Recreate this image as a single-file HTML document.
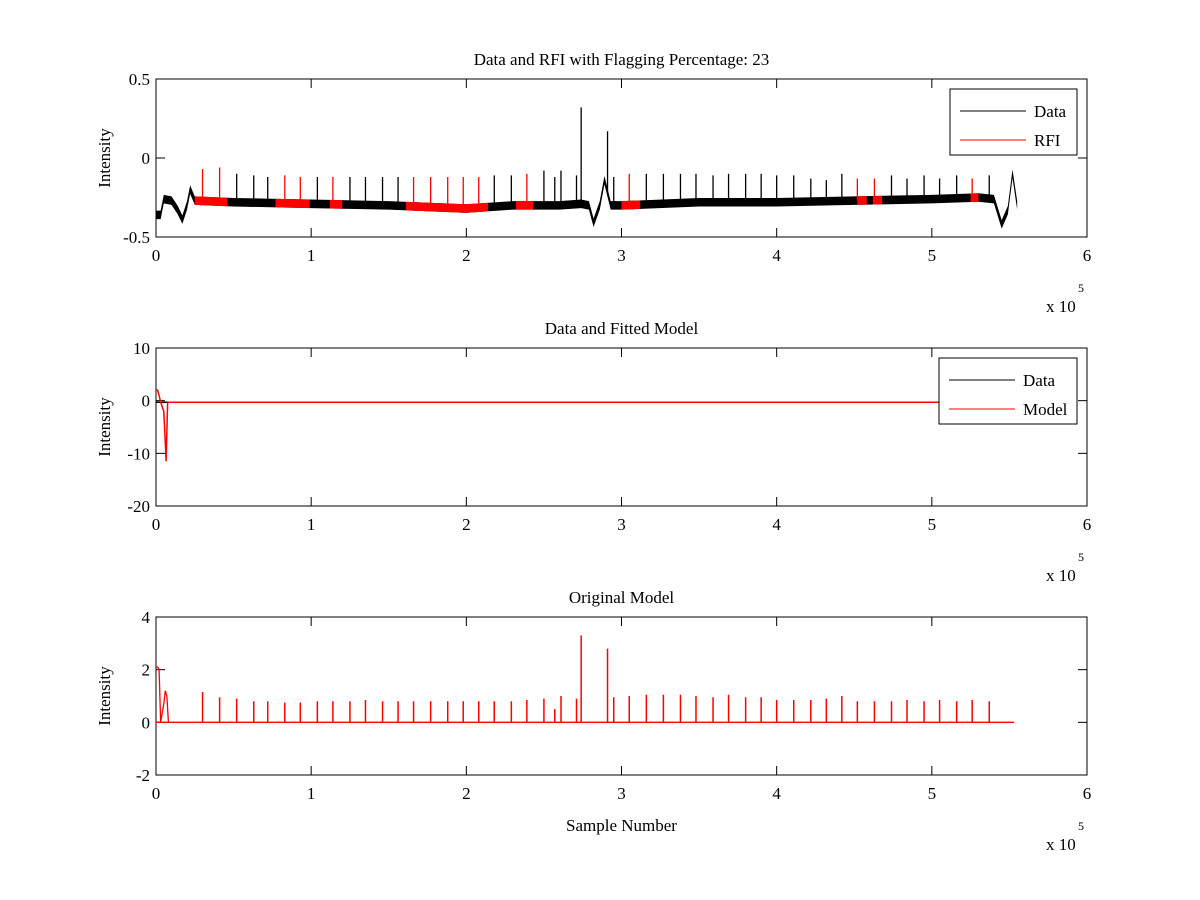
<!DOCTYPE html>
<html><head><meta charset="utf-8"><style>
body{margin:0;background:#fff}
svg{display:block;font-family:"Liberation Serif",serif;}
</style></head><body>
<svg id="fig" width="1200" height="900" viewBox="0 0 1200 900">
<rect width="1200" height="900" fill="#fff"/>
</svg>
<script>
// ---- data ----
const spikeX = [0.30,0.41,0.52,0.63,0.72,0.83,0.93,1.04,1.14,1.25,1.35,1.46,1.56,1.66,1.77,1.88,1.98,2.08,2.18,2.29,2.39,2.50,2.57,2.61,2.71,2.74,2.91,2.95,3.05,3.16,3.27,3.38,3.48,3.59,3.69,3.80,3.90,4.00,4.11,4.22,4.32,4.42,4.52,4.63,4.74,4.84,4.95,5.05,5.16,5.26,5.37];
const modelH = [1.15,0.95,0.9,0.8,0.8,0.75,0.75,0.8,0.8,0.8,0.85,0.8,0.8,0.8,0.8,0.8,0.8,0.8,0.8,0.8,0.85,0.9,0.5,1.0,0.9,3.3,2.8,0.95,1.0,1.05,1.05,1.05,1.0,0.95,1.05,0.95,0.95,0.85,0.85,0.85,0.9,1.0,0.8,0.8,0.8,0.85,0.8,0.85,0.8,0.85,0.8];
const dataSpikeTop = [-0.07,-0.06,-0.1,-0.11,-0.12,-0.11,-0.12,-0.12,-0.12,-0.12,-0.12,-0.12,-0.12,-0.12,-0.12,-0.12,-0.12,-0.12,-0.11,-0.11,-0.1,-0.08,-0.12,-0.08,-0.11,0.32,0.17,-0.12,-0.1,-0.1,-0.1,-0.1,-0.1,-0.11,-0.1,-0.1,-0.1,-0.11,-0.11,-0.13,-0.14,-0.1,-0.13,-0.13,-0.11,-0.13,-0.11,-0.13,-0.11,-0.13,-0.11];
const baseX = [0.00,0.03,0.05,0.10,0.14,0.17,0.20,0.22,0.25,0.5,1.0,1.5,2.0,2.3,2.6,2.74,2.79,2.82,2.86,2.89,2.93,3.0,3.5,4.0,4.5,5.0,5.3,5.40,5.45,5.49,5.52,5.55];
const baseY = [-0.36,-0.36,-0.26,-0.27,-0.33,-0.39,-0.30,-0.2,-0.27,-0.28,-0.29,-0.3,-0.32,-0.30,-0.30,-0.29,-0.3,-0.41,-0.3,-0.14,-0.3,-0.3,-0.28,-0.28,-0.27,-0.26,-0.25,-0.26,-0.42,-0.33,-0.1,-0.3];
const rfiStart = [0.25,0.77,1.12,1.61,2.32,3.00,4.52,4.62,5.25];
const rfiEnd   = [0.46,0.99,1.20,2.14,2.43,3.12,4.58,4.68,5.30];
const fitX = [0,0.01,0.02,0.03,0.05,0.06,0.065,0.075,0.1,5.53];
const fitY = [2,2,1,-0.3,-2,-8,-11.5,-0.3,-0.3,-0.3];
const xTicks = [0,1,2,3,4,5,6];

const S = document.getElementById('fig');
const NS='http://www.w3.org/2000/svg';
function el(t,a,p){const e=document.createElementNS(NS,t);for(const k in a)e.setAttribute(k,a[k]);(p||S).appendChild(e);return e;}
const X0=156,X1=1087;
const sx=v=>X0+(v/6)*(X1-X0);

function axes(top,bot,ymin,ymax,yTicks,title,name,xlabel){
  const g=el('g',{});
  
  
  const sy=v=>bot-(v-ymin)/(ymax-ymin)*(bot-top);
  el('rect',{x:X0,y:top,width:X1-X0,height:bot-top,fill:'none',stroke:'#000','stroke-width':1},g);
  xTicks.forEach(t=>{
    const x=sx(t);
    el('line',{x1:x,y1:bot,x2:x,y2:bot-9,stroke:'#000'},g);
    el('line',{x1:x,y1:top,x2:x,y2:top+9,stroke:'#000'},g);
    const tx=el('text',{x:x,y:bot+24,'font-size':17,'text-anchor':'middle'},g);tx.textContent=t;
    
    
  });
  yTicks.forEach(t=>{
    const y=sy(t);
    el('line',{x1:X0,y1:y,x2:X0+9,y2:y,stroke:'#000'},g);
    el('line',{x1:X1,y1:y,x2:X1-9,y2:y,stroke:'#000'},g);
    const tx=el('text',{x:X0-6,y:y+6,'font-size':17,'text-anchor':'end'},g);tx.textContent=t;
    
    
  });
  const tt=el('text',{x:(X0+X1)/2,y:top-14,'font-size':17,'text-anchor':'middle'},g);tt.textContent=title;
  
  
  const yl=el('text',{x:0,y:0,'font-size':17,'text-anchor':'middle',transform:`translate(${X0-46},${(top+bot)/2}) rotate(-90)`},g);yl.textContent='Intensity';
  
  
  const ex=el('text',{x:1046,y:bot+75,'font-size':17},g);ex.textContent='x 10';
  
  
  const e5=el('text',{x:1078,y:bot+55,'font-size':12},g);e5.textContent='5';
  if(xlabel){const xl=el('text',{x:(X0+X1)/2,y:bot+56,'font-size':17,'text-anchor':'middle'},g);xl.textContent=xlabel;
    
    }
  return sy;
}
function legend(x,y,w,items,name){
  const g=el('g',{});
  
  
  el('rect',{x:x,y:y,width:w,height:66,fill:'#fff',stroke:'#000'},g);
  items.forEach((it,i)=>{
    const yy=y+22+i*29;
    el('line',{x1:x+10,y1:yy,x2:x+76,y2:yy,stroke:it[1],'stroke-width':1},g);
    const t=el('text',{x:x+84,y:yy+6,'font-size':17},g);t.textContent=it[0];
  });
}
function interp(v){for(let i=1;i<baseX.length;i++){if(v<=baseX[i]){const f=(v-baseX[i-1])/(baseX[i]-baseX[i-1]);return baseY[i-1]+f*(baseY[i]-baseY[i-1]);}}return baseY[baseY.length-1];}

// ---- panel 1 ----
const sy1=axes(79,237,-0.5,0.5,[-0.5,0,0.5],'Data and RFI with Flagging Percentage: 23','panel-rfi');
const band=0.027;
let up=baseX.map(v=>sx(v)+','+sy1(interp(v)+band)).join(' ');
let dn=baseX.slice().reverse().map(v=>sx(v)+','+sy1(interp(v)-band)).join(' ');
const bandEl=el('polygon',{points:up+' '+dn,fill:'#000',stroke:'none'});


rfiStart.forEach((s,i)=>{
  const pts=[];for(let k=0;k<=10;k++){const v=s+(rfiEnd[i]-s)*k/10;pts.push(sx(v)+','+sy1(interp(v)+band));}
  for(let k=10;k>=0;k--){const v=s+(rfiEnd[i]-s)*k/10;pts.push(sx(v)+','+sy1(interp(v)-band));}
  const r=el('polygon',{points:pts.join(' '),fill:'#f00',stroke:'none'});
  
  
});
spikeX.forEach((v,i)=>{
  const red=rfiStart.some((s,j)=>v>=s-0.02&&v<=rfiEnd[j]+0.02);
  const l=el('line',{x1:sx(v),y1:sy1(interp(v)),x2:sx(v),y2:sy1(dataSpikeTop[i]),stroke:red?'#f00':'#000','stroke-width':1.3});
  
  
});
legend(950,89,127,[['Data','#000'],['RFI','#f00']],'legend-rfi');

// ---- panel 2 ----
const sy2=axes(348,506,-20,10,[-20,-10,0,10],'Data and Fitted Model','panel-fit');
const dl=el('line',{x1:sx(0),y1:sy2(-0.3),x2:sx(5.53),y2:sy2(-0.3),stroke:'#000','stroke-width':1.5});


const fl=el('polyline',{points:fitX.map((v,i)=>sx(v)+','+sy2(fitY[i])).join(' '),fill:'none',stroke:'#f00','stroke-width':1.5});


legend(939,358,138,[['Data','#000'],['Model','#f00']],'legend-fit');

// ---- panel 3 ----
const sy3=axes(617,775,-2,4,[-2,0,2,4],'Original Model','panel-model','Sample Number');
const bl=el('line',{x1:sx(0),y1:sy3(0),x2:sx(5.53),y2:sy3(0),stroke:'#f00','stroke-width':1.3});


const start=el('polyline',{points:[[0,2.1],[0.01,2.1],[0.02,2.0],[0.03,0],[0.05,0.7],[0.06,1.2],[0.07,1.0],[0.08,0]].map(p=>sx(p[0])+','+sy3(p[1])).join(' '),fill:'none',stroke:'#f00','stroke-width':1.3});


spikeX.forEach((v,i)=>{
  const l=el('line',{x1:sx(v),y1:sy3(0),x2:sx(v),y2:sy3(modelH[i]),stroke:'#f00','stroke-width':1.5});
  
  
});
</script>
</body></html>
